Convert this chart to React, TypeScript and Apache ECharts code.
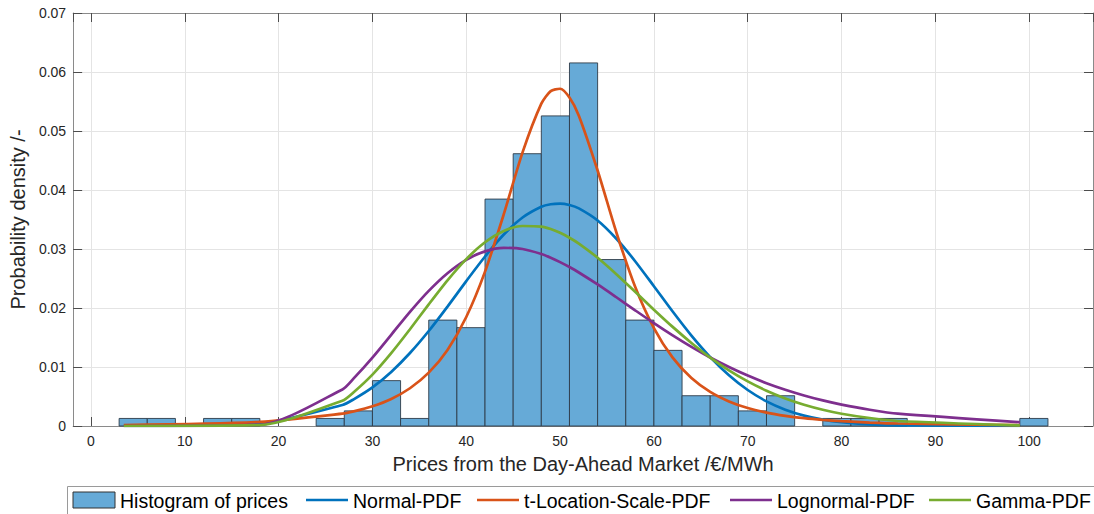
import React, { useEffect, useRef } from "react";
import * as echarts from "echarts";

// Histogram: bin starts (width 3) and probability densities
const binWidth = 3;
const binStarts = [3, 6, 9, 12, 15, 18, 21, 24, 27, 30, 33, 36, 39, 42, 45, 48, 51, 54, 57, 60, 63, 66, 69, 72, 75, 78, 81, 84, 87, 90, 93, 96, 99];
const binDensity = [
  0.00128, 0.00128, 0, 0.00128, 0.00128, 0, 0, 0.00128, 0.00256, 0.00769, 0.00128,
  0.01795, 0.01667, 0.03846, 0.04615, 0.05256, 0.06154, 0.02821, 0.01795, 0.01282,
  0.00513, 0.00513, 0.00256, 0.00513, 0, 0.00128, 0.00128, 0.00128, 0, 0, 0, 0, 0.00128,
];

// Fitted PDFs evaluated at sorted prices
const curveX = [3.5, 18, 26.8, 28, 30, 32, 34, 36, 38, 40, 42, 44, 46, 48, 49, 50, 51, 52, 54, 56, 58, 60, 62, 64, 66, 68, 70, 72, 74, 76, 78, 80, 83, 86, 99];
const normalPdf = [0.0, 0.00041, 0.00355, 0.00452, 0.00654, 0.00916, 0.01237, 0.0161, 0.02024, 0.02456, 0.02873, 0.03245, 0.03534, 0.03716, 0.03759, 0.0377, 0.03746, 0.03689, 0.03484, 0.03174, 0.02793, 0.02369, 0.0194, 0.01532, 0.01168, 0.0086, 0.0061, 0.00417, 0.00276, 0.00176, 0.00108, 0.00064, 0.00028, 0.00011, 0.0];
const tlsPdf = [0.00017, 0.00069, 0.00209, 0.00248, 0.00335, 0.00459, 0.0064, 0.00904, 0.0129, 0.01847, 0.02616, 0.0359, 0.04638, 0.05463, 0.05675, 0.05716, 0.05567, 0.0526, 0.0433, 0.0328, 0.0236, 0.0166, 0.01159, 0.00814, 0.00578, 0.00417, 0.00305, 0.00227, 0.00172, 0.00132, 0.00103, 0.00081, 0.00058, 0.00042, 0.00014];
const lognormalPdf = [0.0, 0.0002, 0.0062, 0.00806, 0.0116, 0.01546, 0.01934, 0.0229, 0.0259, 0.02817, 0.0296, 0.03018, 0.03, 0.02916, 0.02853, 0.02778, 0.02694, 0.02602, 0.02399, 0.02182, 0.01961, 0.01743, 0.01535, 0.0134, 0.0116, 0.00999, 0.00854, 0.00726, 0.00615, 0.00518, 0.00434, 0.00363, 0.00276, 0.00209, 0.00065];
const gammaPdf = [0.0, 0.00015, 0.00429, 0.00573, 0.00871, 0.01235, 0.0164, 0.02062, 0.02469, 0.02829, 0.03114, 0.03306, 0.0339, 0.0338, 0.03338, 0.03274, 0.03191, 0.03092, 0.02852, 0.02573, 0.02274, 0.01972, 0.0168, 0.01408, 0.0116, 0.00943, 0.00756, 0.00598, 0.00467, 0.00361, 0.00276, 0.00208, 0.00135, 0.00085, 0.0001];

const seriesNames = ["Histogram of prices", "Normal-PDF", "t-Location-Scale-PDF", "Lognormal-PDF", "Gamma-PDF"];
const lineColors = ["#0072BD", "#D95319", "#7E2F8E", "#77AC30"];
const histFill = "#66AAD7";

const FONT = "Liberation Sans, Arial, Helvetica, sans-serif";
const X_MIN = -1.9;
const X_MAX = 106.8;

// legend layout (pixels): icon start x for each entry
const legendIconX = [73, 306, 477, 730, 929];
const LEGEND_Y = 500;

export default function App() {
  const ref = useRef<HTMLDivElement>(null);
  useEffect(() => {
    const chart = echarts.init(ref.current!, null, { renderer: "svg" });
    const histData = binStarts
      .map((s, i) => [s, s + binWidth, binDensity[i]])
      .filter((d) => d[2] > 0);
    const curves = [normalPdf, tlsPdf, lognormalPdf, gammaPdf];
    const axisLineColor = "#8a8a8a";
    const tickColor = "#4d4d4d";
    const gridColor = "#e4e4e4";

    const legendGraphics: any[] = [
      {
        type: "rect",
        left: 67,
        top: 486,
        z: 0,
        shape: { width: 1040, height: 40 },
        style: { fill: "#ffffff", stroke: "#9a9a9a", lineWidth: 1 },
        silent: true,
      },
    ];
    seriesNames.forEach((name, i) => {
      const x0 = legendIconX[i];
      if (i === 0) {
        legendGraphics.push({
          type: "rect",
          z: 1,
          shape: { x: x0, y: LEGEND_Y - 8, width: 42, height: 16 },
          style: { fill: histFill, stroke: "#333333", lineWidth: 1 },
          silent: true,
        });
      } else {
        legendGraphics.push({
          type: "line",
          z: 1,
          shape: { x1: x0, y1: LEGEND_Y, x2: x0 + 42, y2: LEGEND_Y },
          style: { stroke: lineColors[i - 1], lineWidth: 2.6 },
          silent: true,
        });
      }
      legendGraphics.push({
        type: "text",
        z: 1,
        x: x0 + 47,
        y: LEGEND_Y + 1,
        style: {
          text: name,
          fill: "#000000",
          font: `19.5px ${FONT}`,
          textVerticalAlign: "middle",
          textAlign: "left",
        },
        silent: true,
      });
    });

    chart.setOption({
      animation: false,
      backgroundColor: "#ffffff",
      textStyle: { fontFamily: FONT },
      grid: { left: 70, right: 1, top: 13, bottom: 88 },
      xAxis: [
        {
          type: "value",
          min: X_MIN,
          max: X_MAX,
          splitNumber: 10,
          position: "bottom",
          name: "Prices from the Day-Ahead Market /€/MWh",
          nameLocation: "middle",
          nameGap: 28,
          nameTextStyle: { fontSize: 20, color: "#262626", fontFamily: FONT },
          axisLine: { show: true, onZero: false, lineStyle: { color: axisLineColor, width: 1 } },
          axisTick: { show: true, inside: true, length: 9, lineStyle: { color: tickColor } },
          axisLabel: { color: "#262626", fontSize: 14, fontFamily: FONT, margin: 8, showMinLabel: false, showMaxLabel: false },
          splitLine: { show: true, lineStyle: { color: gridColor, width: 1 } },
        },
        {
          type: "value",
          min: X_MIN,
          max: X_MAX,
          splitNumber: 10,
          position: "top",
          axisLine: { show: true, onZero: false, lineStyle: { color: axisLineColor, width: 1 } },
          axisTick: { show: true, inside: true, length: 9, lineStyle: { color: tickColor } },
          axisLabel: { show: false },
          splitLine: { show: false },
        },
      ],
      yAxis: [
        {
          type: "value",
          min: 0,
          max: 0.07,
          interval: 0.01,
          position: "left",
          name: "Probability density /-",
          nameLocation: "middle",
          nameGap: 35,
          nameTextStyle: { fontSize: 20, color: "#262626", fontFamily: FONT },
          axisLine: { show: true, onZero: false, lineStyle: { color: axisLineColor, width: 1 } },
          axisTick: { show: true, inside: true, length: 9, lineStyle: { color: tickColor } },
          axisLabel: {
            color: "#262626",
            fontSize: 14,
            fontFamily: FONT,
            margin: 7,
            formatter: (v: number) => (v === 0 ? "0" : v.toFixed(2)),
          },
          splitLine: { show: true, lineStyle: { color: gridColor, width: 1 } },
        },
        {
          type: "value",
          min: 0,
          max: 0.07,
          interval: 0.01,
          position: "right",
          axisLine: { show: true, onZero: false, lineStyle: { color: axisLineColor, width: 1 } },
          axisTick: { show: true, inside: true, length: 9, lineStyle: { color: tickColor } },
          axisLabel: { show: false },
          splitLine: { show: false },
        },
      ],
      graphic: legendGraphics,
      series: [
        {
          name: seriesNames[0],
          type: "custom",
          xAxisIndex: 0,
          yAxisIndex: 0,
          itemStyle: { color: histFill, borderColor: "#333333", borderWidth: 1 },
          encode: { x: [0, 1], y: 2 },
          data: histData,
          z: 2,
          renderItem: (params: any, api: any) => {
            const p0 = api.coord([api.value(0), api.value(2)]);
            const p1 = api.coord([api.value(1), 0]);
            return {
              type: "rect",
              shape: { x: p0[0], y: p0[1], width: p1[0] - p0[0], height: p1[1] - p0[1] },
              style: { fill: histFill, stroke: "#2e3b48", lineWidth: 0.9 },
            };
          },
        },
        ...curves.map((arr, k) => ({
          name: seriesNames[k + 1],
          type: "line",
          xAxisIndex: 0,
          yAxisIndex: 0,
          data: curveX.map((x, i) => [x, arr[i]]),
          symbol: "none",
          showSymbol: false,
          smooth: 0.25,
          z: 3 + k,
          lineStyle: { color: lineColors[k], width: 2.7 },
          itemStyle: { color: lineColors[k] },
        })),
      ],
    });
    return () => chart.dispose();
  }, []);
  return <div ref={ref} style={{ position: "fixed", left: 0, top: 0, width: 1094, height: 514 }} />;
}
